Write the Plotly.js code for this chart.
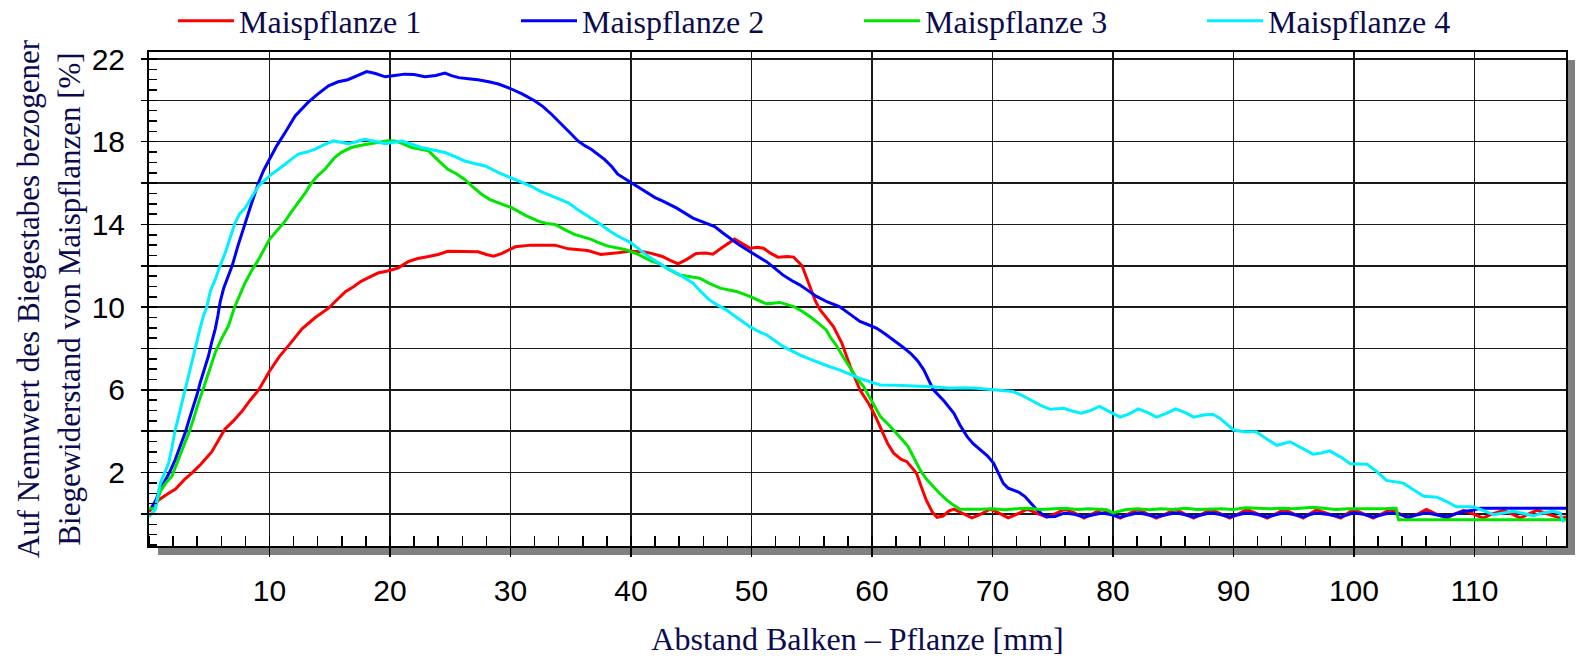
<!DOCTYPE html>
<html>
<head>
<meta charset="utf-8">
<script src="https://cdn.plot.ly/plotly-3.0.1.min.js"></script>
<style>html,body{margin:0;padding:0;background:#fff;}#chart{width:1582px;height:658px;}</style>
</head>
<body>
<div id="chart"></div>
<script>
// ---- data ----
const seriesNames = ["Maispflanze 1", "Maispflanze 2", "Maispflanze 3", "Maispflanze 4"];
const seriesColors = ["#ff0000", "#0000ff", "#00e600", "#00f0ff"];

const x1 = [0.0,0.8,1.5,2.2,3.0,3.6,4.3,5.2,5.8,6.3,7.0,7.7,8.4,9.1,10.0,10.8,11.6,12.7,13.8,14.9,15.5,16.3,17.0,17.6,18.3,19.0,19.8,20.7,21.5,22.3,23.2,24.0,24.8,26.0,27.3,28.0,28.6,29.3,30.4,31.7,33.0,33.7,34.8,35.6,36.4,37.5,38.2,38.9,40.0,41.0,41.7,42.6,43.3,43.9,44.6,45.4,46.2,46.8,47.6,48.6,49.3,49.9,50.5,51.0,51.6,52.2,53.0,53.5,54.2,54.85,55.3,55.7,56.3,56.8,57.5,58.2,59.0,59.8,60.3,60.8,61.3,61.8,62.4,62.9,63.4,63.7,64.1,64.5,65.0,65.4,65.9,66.4,66.8,67.5,68.3,68.9,69.8,70.5,71.3,72.0,72.9,73.6,74.5,75.2,76.0,76.8,77.6,78.3,79.1,79.8,80.6,81.3,82.1,82.8,83.6,84.4,85.2,85.9,86.7,87.4,88.1,88.9,89.7,90.4,91.1,92.0,92.8,93.5,94.2,95.0,95.8,96.3,96.9,97.9,98.9,99.4,99.96,100.8,101.6,102.3,103.0,103.8,104.5,105.3,106.0,106.8,107.7,108.4,109.1,109.9,110.7,111.5,112.4,113.1,113.8,114.5,115.2,116.1,117.1,117.6];
const y1 = [0.1,0.68,0.95,1.2,1.7,2.0,2.4,3.0,3.6,4.1,4.5,4.95,5.5,6.0,6.9,7.6,8.15,8.95,9.5,9.95,10.3,10.75,11.0,11.25,11.45,11.65,11.75,11.9,12.2,12.35,12.45,12.55,12.7,12.7,12.68,12.55,12.47,12.6,12.92,13.0,13.02,13.0,12.82,12.78,12.74,12.55,12.58,12.63,12.71,12.68,12.6,12.45,12.25,12.1,12.3,12.6,12.62,12.56,12.9,13.29,13.05,12.85,12.9,12.85,12.6,12.42,12.45,12.42,12.0,11.0,10.3,9.87,9.4,9.06,8.26,7.13,6.0,5.27,4.7,4.06,3.4,2.94,2.65,2.53,2.2,1.97,1.3,0.68,0.1,-0.16,-0.1,0.15,0.23,0.05,-0.19,-0.05,0.23,0.05,-0.19,-0.02,0.23,0.05,-0.15,0.0,0.23,0.05,-0.2,0.0,0.23,0.02,-0.2,0.0,0.23,0.02,-0.2,0.0,0.23,0.02,-0.2,0.0,0.22,0.02,-0.2,0.0,0.22,0.0,-0.2,0.0,0.22,0.0,-0.2,0.0,0.2,0.0,-0.2,0.0,0.22,0.0,-0.2,0.0,0.22,0.0,-0.2,0.0,0.22,0.0,-0.2,0.0,0.17,0.0,-0.2,0.0,0.17,0.0,-0.2,0.0,0.17,0.0,-0.2,-0.15];

const x2 = [0.1,0.6,0.9,1.22,1.7,2.18,2.6,3.0,3.35,3.7,4.0,4.25,4.6,4.94,5.2,5.5,5.72,5.9,6.19,6.5,6.9,7.4,7.98,8.5,9.09,9.5,10.0,10.6,11.3,12.13,13.2,14.0,14.9,15.7,16.5,17.3,18.07,18.8,19.6,20.4,21.2,22.0,22.9,23.8,24.56,25.1,25.7,26.5,27.3,28.2,29.0,30.08,31.0,32.0,32.7,33.4,34.0,34.5,35.0,35.6,36.2,36.7,37.8,38.4,38.9,40.0,41.1,42.0,42.65,43.8,45.15,46.0,46.95,47.6,48.2,49.0,49.86,50.5,51.25,52.0,52.6,53.3,54.0,54.7,55.4,56.3,57.3,58.2,59.0,59.7,60.4,61.1,61.8,62.5,63.2,63.8,64.3,64.7,65.1,66.0,66.8,67.3,67.9,68.4,69.0,69.6,70.1,70.5,70.9,71.3,71.7,72.2,72.7,73.2,73.7,74.1,74.5,75.2,76.0,76.8,77.6,78.3,79.1,79.8,80.6,81.3,82.1,82.8,83.6,84.4,85.2,85.9,86.7,87.4,88.1,88.9,89.7,90.4,91.1,92.0,92.8,93.5,94.2,95.0,95.8,96.3,96.9,97.9,98.9,99.96,100.8,101.6,103.0,103.8,104.5,106.0,106.8,107.7,108.4,109.1,109.9,110.5,117.6];
const y2 = [0.2,0.7,1.2,1.49,2.0,2.63,3.3,3.92,4.6,5.22,5.8,6.35,7.0,7.65,8.3,8.95,9.6,10.24,10.9,11.4,12.0,13.0,14.08,15.0,16.02,16.6,17.15,17.8,18.45,19.25,19.9,20.3,20.7,20.9,21.0,21.2,21.39,21.3,21.14,21.2,21.27,21.25,21.14,21.2,21.32,21.2,21.1,21.05,21.0,20.9,20.79,20.55,20.3,19.98,19.7,19.33,19.0,18.69,18.4,18.04,17.8,17.64,17.15,16.8,16.43,16.02,15.6,15.3,15.13,14.79,14.31,14.1,13.9,13.6,13.34,13.0,12.69,12.45,12.2,11.85,11.56,11.3,11.08,10.8,10.52,10.25,10.03,9.65,9.31,9.15,8.98,8.7,8.42,8.1,7.77,7.4,6.97,6.5,6.0,5.45,4.87,4.3,3.74,3.4,3.1,2.8,2.45,1.95,1.48,1.25,1.16,1.05,0.84,0.5,0.19,0.0,-0.13,-0.12,0.05,-0.02,-0.15,-0.05,0.05,-0.03,-0.16,-0.05,0.06,-0.03,-0.15,-0.04,0.06,-0.03,-0.15,-0.04,0.06,-0.03,-0.15,-0.04,0.06,-0.03,-0.15,-0.04,0.06,-0.03,-0.15,-0.04,0.05,-0.03,-0.15,0.06,-0.02,-0.14,0.06,-0.02,-0.14,0.06,-0.02,-0.14,0.0,0.12,0.18,0.28,0.28];

const x3 = [0.0,0.5,0.94,1.4,1.9,2.46,2.9,3.3,3.7,4.1,4.67,5.1,5.5,6.0,6.6,7.1,7.98,8.5,9.09,10.0,10.6,11.3,11.8,12.4,13.0,13.5,14.0,14.6,15.4,16.0,16.8,17.5,18.2,19.0,19.8,20.4,21.1,21.8,22.5,23.2,24.0,24.8,25.5,26.2,26.9,27.6,28.3,29.0,30.1,31.2,32.3,33.0,33.7,34.5,35.3,36.0,36.7,37.4,38.1,39.5,40.6,41.7,42.4,43.2,44.0,45.7,46.5,47.4,48.75,49.86,50.5,51.25,52.35,53.5,54.2,54.85,55.5,56.2,56.6,57.1,57.6,58.2,58.7,59.3,60.0,60.7,61.4,62.05,62.5,63.0,63.5,64.0,64.5,65.1,65.6,66.2,66.7,67.3,68.0,69.0,70.0,71.0,72.0,73.0,74.0,75.0,76.0,77.0,78.0,79.5,80.0,81.0,82.0,83.0,84.0,85.0,86.0,87.0,88.0,89.0,90.0,91.0,92.0,93.0,94.0,95.0,96.6,97.5,98.5,99.5,100.5,101.5,102.5,103.5,103.7,117.6];
const y3 = [0.25,0.28,1.09,1.5,1.82,2.63,3.3,3.92,4.6,5.38,6.35,7.1,7.81,8.45,9.1,10.0,11.18,11.75,12.3,13.28,13.7,14.16,14.6,15.05,15.55,16.02,16.35,16.67,17.23,17.5,17.72,17.82,17.88,17.96,18.05,18.04,17.9,17.72,17.65,17.56,17.1,16.67,16.45,16.18,15.8,15.46,15.2,15.05,14.81,14.45,14.16,14.05,14.0,13.75,13.52,13.4,13.28,13.1,12.95,12.79,12.55,12.23,12.1,11.8,11.56,11.4,11.15,10.92,10.76,10.52,10.35,10.16,10.23,10.03,9.8,9.55,9.25,8.9,8.5,8.1,7.6,7.05,6.6,6.16,5.4,4.71,4.3,3.9,3.6,3.26,2.7,2.13,1.7,1.32,1.0,0.68,0.45,0.23,0.22,0.23,0.25,0.2,0.25,0.27,0.22,0.25,0.28,0.22,0.25,0.2,0.05,0.2,0.25,0.2,0.25,0.22,0.28,0.22,0.25,0.25,0.22,0.3,0.27,0.25,0.28,0.25,0.32,0.28,0.22,0.25,0.25,0.22,0.25,0.27,-0.28,-0.28];

const x4 = [0.0,0.5,0.94,1.3,1.63,1.9,2.18,2.45,2.73,3.0,3.29,3.6,3.98,4.25,4.53,4.8,5.1,5.5,5.9,6.33,6.7,7.15,7.5,8.0,8.5,9.1,10.0,10.6,11.3,11.8,12.4,13.1,13.8,14.5,15.3,15.9,16.55,17.2,17.9,18.7,19.6,20.3,21.0,21.8,22.6,23.6,24.56,25.4,26.2,27.0,27.9,29.0,30.08,30.9,31.7,32.5,33.4,34.1,34.8,35.5,36.2,36.8,37.5,38.2,38.9,40.0,40.7,41.4,42.4,43.1,43.8,44.5,45.15,45.8,46.5,47.2,47.9,48.9,49.86,50.5,51.25,51.9,52.6,53.3,54.0,54.8,55.7,56.5,57.3,58.2,59.0,59.8,60.7,62.0,63.4,65.0,66.5,67.7,68.7,70.1,71.0,71.7,72.4,73.1,74.0,74.8,75.9,76.6,77.4,78.1,78.9,79.7,80.6,81.4,82.1,82.9,83.6,84.4,85.2,86.0,86.7,87.5,88.3,88.9,89.5,90.0,90.9,91.9,92.7,93.6,94.7,95.6,96.6,97.3,98.0,98.9,99.7,101.1,101.9,102.7,104.1,105.0,105.8,106.9,107.7,108.5,109.9,110.8,111.6,112.4,113.2,114.0,114.9,115.7,116.5,117.1,117.4];
const y4 = [-0.13,0.19,1.49,2.0,2.46,3.2,4.08,4.7,5.38,6.0,6.68,7.5,8.46,9.0,9.6,10.0,10.8,11.34,12.0,12.63,13.3,14.08,14.5,14.81,15.3,15.86,16.35,16.6,16.91,17.15,17.4,17.5,17.64,17.85,18.04,17.98,17.91,18.0,18.12,18.02,17.91,17.98,18.04,17.88,17.72,17.6,17.48,17.28,17.07,16.95,16.83,16.51,16.26,16.06,15.86,15.6,15.38,15.2,15.05,14.75,14.49,14.25,14.0,13.7,13.44,13.11,12.8,12.47,12.1,11.85,11.65,11.4,11.16,10.75,10.35,10.1,9.87,9.45,9.06,8.85,8.66,8.4,8.1,7.9,7.69,7.5,7.29,7.12,6.97,6.75,6.56,6.4,6.24,6.22,6.19,6.15,6.08,6.1,6.08,6.0,5.98,5.92,5.75,5.52,5.25,5.06,5.11,4.98,4.87,5.0,5.2,4.95,4.68,4.85,5.08,4.9,4.68,4.85,5.08,4.9,4.68,4.78,4.82,4.62,4.3,4.06,3.98,3.97,3.65,3.32,3.49,3.2,2.89,2.95,3.05,2.75,2.43,2.4,2.05,1.62,1.49,1.15,0.86,0.81,0.6,0.35,0.35,0.15,-0.04,0.05,0.13,0.03,-0.08,0.05,0.13,0.05,-0.4];

const xTickVals = [10,20,30,40,50,60,70,80,90,100,110];
const yTickVals = [0,2,4,6,8,10,12,14,16,18,20,22];
const yTickText = ["","2","","6","","10","","14","","18","","22"];
const xTitleText = "Abstand Balken – Pflanze [mm]";
const yTitleText = "Auf Nennwert des Biegestabes bezogener<br>Biegewiderstand von Maispflanzen [%]";

// ---- traces ----
const xs = [x1, x2, x3, x4];
const ys = [y1, y2, y3, y4];
const traces = seriesNames.map((n, i) => ({
  type: "scatter", mode: "lines", name: n, x: xs[i], y: ys[i],
  line: {color: seriesColors[i], width: 3}, hoverinfo: "skip"
}));

const navy = "#0b0b4d";
const serif = "Liberation Serif, Times New Roman, serif";
const sans = "Liberation Sans, Arial, sans-serif";
const PW = 1417, PH = 494;

const layout = {
  width: 1582, height: 658,
  margin: {l: 149, r: 16, t: 52, b: 112, pad: 0, autoexpand: false},
  paper_bgcolor: "#ffffff", plot_bgcolor: "#ffffff",
  showlegend: true,
  legend: {
    orientation: "h", x: (173-149)/PW, y: 1 + (52-21)/PH, xanchor: "left", yanchor: "middle",
    font: {family: serif, size: 32, color: navy},
    itemwidth: 56, entrywidth: 272, entrywidthmode: "pixels",
    bgcolor: "rgba(0,0,0,0)", borderwidth: 0, tracegroupgap: 0
  },
  xaxis: {
    range: [0, 117.6], tickmode: "array", tickvals: xTickVals,
    showgrid: true, gridcolor: "#1a1a1a", gridwidth: 1.5,
    showline: true, linecolor: "#000", linewidth: 2, mirror: true,
    ticks: "outside", ticklen: 9, tickwidth: 1.5, tickcolor: "#000",
    tickfont: {family: sans, size: 30, color: "#000"}, ticklabelstandoff: 8,
    minor: {tickmode: "linear", tick0: 0, dtick: 2, ticks: "inside", ticklen: 10, tickwidth: 1.5, tickcolor: "#000", showgrid: false},
    zeroline: false,
    title: {text: xTitleText, font: {family: serif, size: 32, color: navy}, standoff: 22},
    automargin: false
  },
  yaxis: {
    range: [-1.55, 22.34], tickmode: "array", tickvals: yTickVals, ticktext: yTickText,
    showgrid: true, gridcolor: "#1a1a1a", gridwidth: 1.5,
    showline: true, linecolor: "#000", linewidth: 2, mirror: true,
    ticks: "outside", ticklen: 6, tickwidth: 1.5, tickcolor: "#000",
    tickfont: {family: sans, size: 30, color: "#000"}, ticklabelstandoff: 10,
    minor: {tickmode: "linear", tick0: 0, dtick: 0.5, ticks: "inside", ticklen: 8, tickwidth: 1.5, tickcolor: "#000", showgrid: false},
    zeroline: false,
    title: {text: yTitleText, font: {family: serif, size: 31, color: navy}, standoff: 2},
    automargin: false
  },
  shapes: [
    {type: "rect", xref: "paper", yref: "paper", layer: "below",
     x0: 1, x1: 1 + 9/PW, y0: -9/PH, y1: 1 - 8/PH, fillcolor: "#808080", line: {width: 0}},
    {type: "rect", xref: "paper", yref: "paper", layer: "below",
     x0: 9/PW, x1: 1 + 9/PW, y0: -9/PH, y1: 0, fillcolor: "#808080", line: {width: 0}}
  ]
};

Plotly.newPlot("chart", traces, layout, {displayModeBar: false, staticPlot: true});
</script>
</body>
</html>
